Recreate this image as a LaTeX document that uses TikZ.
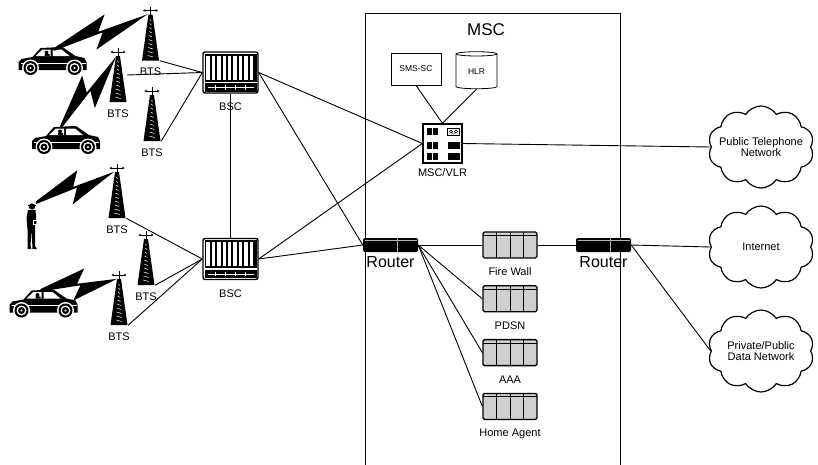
\documentclass[tikz,border=0pt]{standalone}
\usepackage{fontspec}
\setmainfont{Liberation Sans}
\usetikzlibrary{arrows.meta,positioning,calc,shapes.geometric,shapes.symbols}
\definecolor{rackgrey}{HTML}{CFCFCF}
\newcommand\fs[1]{\fontsize{#1}{#1}\selectfont}
% zig-zag radio link from a handset up to a mast
\newcommand\bolt[2]{%
  \coordinate (ba) at (#1);
  \coordinate (bb) at (#2);
  \coordinate (ba1) at ($(ba)!1.2pt!90:(bb)$);
  \coordinate (ba2) at ($(ba)!1.2pt!-90:(bb)$);
  \coordinate (bm1) at ($(ba)!0.60!(bb)$);
  \coordinate (bu1) at ($(bm1)!15pt!90:(bb)$);
  \coordinate (bm2) at ($(ba)!0.48!(bb)$);
  \coordinate (bu2) at ($(bm2)!1pt!90:(bb)$);
  \coordinate (bm3) at ($(ba)!0.40!(bb)$);
  \coordinate (bl1) at ($(bm3)!15pt!-90:(bb)$);
  \coordinate (bm4) at ($(ba)!0.52!(bb)$);
  \coordinate (bl2) at ($(bm4)!1pt!-90:(bb)$);
  \fill[black] (ba1) -- (bu1) -- (bu2) -- (bb) -- (bl1) -- (bl2) -- (ba2) -- cycle;}
\tikzset{
  link/.style={line width=0.9pt},
  tag/.style={font=\fs{11},inner sep=1pt},
  tower/.style={minimum width=18,minimum height=54,inner sep=0,
    label={[tag,label distance=6pt]below:BTS},
    path picture={
      \begin{scope}[shift={(path picture bounding box.center)}]
        \draw[black,line width=0.8] (0,-27) -- (0,-18);
        \draw[black,line width=0.5,{Stealth[length=2.5pt,width=2.5pt]}-{Stealth[length=2.5pt,width=2.5pt]}] (-7.5,-23) -- (7.5,-23);
        \fill[black] (-2,-19) -- (2,-19) -- (8.5,27) -- (-8.5,27) -- cycle;
        \foreach \y in {-14,-10,...,22}
          \draw[white,line width=0.5] ({-0.3-0.06*(\y+19)},\y) -- ({0.3+0.06*(\y+19)},\y+1.5);
      \end{scope}}},
  car/.style={minimum width=68,minimum height=28,inner sep=0,
    path picture={
      \begin{scope}[shift={(path picture bounding box.center)}]
        \fill[black] (-34,9) -- (-34,1) -- (-31,-2) -- (-20,-4) -- (-12,-13) -- (10,-14) -- (23,-5) -- (32,-3) -- (34,1) -- (34,9) -- cycle;
        \fill[white] (-17,-5) -- (-10,-11.5) -- (-2,-11.5) -- (-2,-5) -- cycle;
        \fill[white] (0,-11.5) -- (9,-11.5) -- (17,-5) -- (0,-5) -- cycle;
        \fill[black] (-6,-8.5) circle (2pt) (-8,-5) rectangle (-3,-7);
        \draw[white,line width=0.8] (-32,2) -- (33,2);
        \foreach \x in {-22,22}{
          \fill[white] (\x,7) circle (8.5pt);
          \fill[black] (\x,7) circle (7pt);
          \fill[white] (\x,7) circle (5pt);
          \fill[black] (\x,7) circle (3.5pt);
          \fill[white] (\x,7) circle (1.2pt);}
      \end{scope}}},
  man/.style={minimum width=16,minimum height=48,inner sep=0,
    path picture={
      \begin{scope}[shift={(path picture bounding box.center)}]
        \fill[black] (0,-19.5) circle (3.2pt);
        \fill[black] (-4.5,-21.5) rectangle (4,-20.3);
        \fill[black] (-4,-16) -- (3.5,-16) -- (4.5,-3) -- (3,0) -- (3,20) -- (5,23) -- (0.5,23) -- (-0.5,3) -- (-1.5,20) -- (-0.5,23) -- (-4.5,23) -- (-4.5,3) -- (-5.5,-8) -- cycle;
        \draw[white,line width=0.6] (1,-6) rectangle (6,-2);
      \end{scope}}},
  bsc/.style={draw,line width=1.4,rounded corners=2,fill=white,minimum width=55,minimum height=41,inner sep=0,
    label={[tag,label distance=8pt]below:BSC},
    path picture={
      \begin{scope}[shift={(path picture bounding box.center)},sharp corners]
        \fill[black] (-26,-19) rectangle (26,9);
        \foreach \i in {0,...,8} \fill[white] ({-24.2+\i*5.4},-17) rectangle ++(3.4,24);
        \fill[black] (-26,10.5) rectangle (26,19);
        \draw[white,line width=0.6] (-23,14.8) -- (23,14.8);
        \foreach \x in {-15,-5,5,15} \draw[white,line width=0.6] (\x,12.5) -- (\x,17);
      \end{scope}}},
  router/.style={fill=black,rounded corners=2,minimum width=55,minimum height=14,inner sep=0,
    label={[font=\fs{16},inner sep=1pt,label distance=3pt]below:Router},
    path picture={
      \begin{scope}[shift={(path picture bounding box.center)}]
        \draw[gray!60,line width=0.5] (-26,-4.5) -- (26,-4.5);
        \draw[gray!70,line width=0.7] (7,-7) -- (7,7);
      \end{scope}}},
  server/.style={draw,line width=1.3,fill=rackgrey,rounded corners=1.5,minimum width=54,minimum height=26,inner sep=0,
    path picture={
      \begin{scope}[shift={(path picture bounding box.center)},sharp corners]
        \draw[black,line width=1] (-27,-9.5) -- (27,-9.5);
        \foreach \x in {-13.5,0,13.5} \draw[black,line width=1] (\x,-13) -- (\x,13);
      \end{scope}}},
  vlr/.style={draw,line width=1.3,fill=white,minimum size=39,inner sep=0,
    label={[tag,label distance=4pt]below:MSC/VLR},
    path picture={
      \begin{scope}[shift={(path picture bounding box.center)}]
        \foreach \y in {-12,1.5,13}{
          \fill[black] (-16,\y-3.5) rectangle (-5,\y+3.5);
          \draw[white,line width=0.6] (-10,\y-3.5) -- (-10,\y+3.5);}
        \foreach \y in {1.5,13} \fill[black] (5,\y-3.5) rectangle (17,\y+3.5);
        \draw[black,line width=1] (5,-15.5) rectangle (17,-8.5);
        \draw[black,line width=0.5] (8.5,-12) circle (1.5pt) (13.5,-12) circle (1.5pt) (8.5,-10.3) -- (13.5,-10.3);
      \end{scope}}},
  smsc/.style={draw,line width=0.8,minimum width=50,minimum height=32,font=\fs{8.5}},
  store/.style={cylinder,shape border rotate=90,aspect=0.25,draw,line width=0.8,minimum width=41,minimum height=37,inner sep=0,font=\fs{8.5}},
  cloudnet/.style={cloud,cloud puffs=10,cloud puff arc=115,draw,line width=1.2,minimum width=106,minimum height=82,inner sep=0},
  cloudtext/.style={font=\fs{11},align=center,inner sep=0},
}
\begin{document}
\begin{tikzpicture}[x=1pt,y=-1pt,node distance=26.5pt]
  \useasboundingbox (0,0) rectangle (818,464);
  % switching centre frame
  \node[draw,line width=1,minimum width=255,minimum height=470,anchor=north west,inner sep=0] (mscbox) at (365,13) {};
  \node[font=\fs{17}] (msc) at (486,30) {MSC};
  % radio side
  \node[tower] (t1) at (150.5,33.5) {};
  \node[tower] (t2) at (118,75) {};
  \node[tower] (t3) at (152,114) {};
  \node[tower] (t4) at (117,191) {};
  \node[tower] (t5) at (146,258) {};
  \node[tower] (t6) at (119,298) {};
  \node[car] (car1) at (52.5,61) {};
  \node[car] (car2) at (66,140) {};
  \node[car] (car3) at (43.5,303.5) {};
  \node[man] (man) at (32,226) {};
  \node[bsc] (bsc1) at (230.5,72.5) {};
  \node[bsc] (bsc2) at (230.5,259) {};
  % core
  \node[vlr] (vlr) at (442.5,143.5) {};
  \node[smsc] (sms) at (416,69) {SMS-SC};
  \node[store] (hlr) at (476.5,71.5) {HLR};
  \node[router] (r1) at (390.5,245) {};
  \node[server,label={[tag,label distance=8pt]below:Fire Wall}] (fw) at (510,245) {};
  \node[server,below=of fw,label={[tag,label distance=8pt]below:PDSN}] (pdsn) {};
  \node[server,below=of pdsn,label={[tag,label distance=8pt]below:AAA}] (aaa) {};
  \node[server,below=of aaa,label={[tag,label distance=8pt]below:Home Agent}] (ha) {};
  \node[router] (r2) at (603.5,245) {};
  % outside networks
  \node[cloudnet,label={[cloudtext]center:Public Telephone\\Network}] (pstn) at (761,147) {};
  \node[cloudnet,label={[cloudtext]center:Internet}] (inet) at (761,247) {};
  \node[cloudnet,label={[cloudtext]center:Private/Public\\Data Network}] (pdn) at (761,351) {};
  % wiring
  \foreach \a/\b in {t1.south east/bsc1.west,t2.east/bsc1.west,t3.south east/bsc1.west,
    t4.south east/bsc2.west,t5.south east/bsc2.west,t6.south east/bsc2.west,
    bsc1.south/bsc2.north,bsc1.east/vlr.west,bsc1.east/r1.west,bsc2.east/vlr.west,bsc2.east/r1.west,
    sms.south/vlr.north,hlr.south/vlr.north,vlr.east/pstn.west,
    r1.east/fw.west,fw.east/r2.west,r2.east/inet.west,r2.east/pdn.west,
    r1.east/pdsn.west,r1.east/aaa.west,r1.east/ha.west}
    \draw[link] (\a) -- (\b);
  % air links
  \bolt{$(car1.north)+(1,3)$}{$(t1.north)+(-3,8)$}
  \bolt{$(car2.north)+(-5,1)$}{$(t2.north)+(-2,9)$}
  \bolt{$(man.north)+(4,1)$}{$(t4.north)+(-3,8)$}
  \bolt{$(car3.north)+(-3,1)$}{$(t6.north)+(-2,8)$}
\end{tikzpicture}
\end{document}
